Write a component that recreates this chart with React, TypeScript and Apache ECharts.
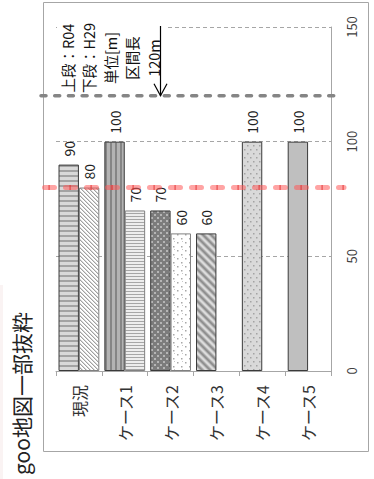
import React, { useEffect, useRef } from "react";
import * as echarts from "echarts";

// Section lengths [m] per case: upper bar = R04, lower bar = H29
const categories = ["現況", "ケース1", "ケース2", "ケース3", "ケース4", "ケース5"];
const r04Values: (number | null)[] = [90, 100, 70, 60, 100, 100];
const h29Values: (number | null)[] = [80, 70, 60, null, null, null];
const valueTicks = [0, 50, 100, 150];
const sectionLength = 120;
const thresholdValue = 80;
const noteLines = ["上段：R04", "下段：H29", "単位[m]", "区間長", "120m"];
const titleText = "goo地図一部抜粋";

const FONT = '"Noto Sans CJK JP", "Noto Sans", sans-serif';

type Painter = (ctx: CanvasRenderingContext2D, w: number, h: number) => void;

function makeTile(w: number, h: number, paint: Painter) {
  const c = document.createElement("canvas");
  c.width = w;
  c.height = h;
  const ctx = c.getContext("2d") as CanvasRenderingContext2D;
  paint(ctx, w, h);
  return { image: c.toDataURL(), repeat: "repeat", imageWidth: w, imageHeight: h };
}

function buildFills() {
  // horizontal stripes on light grey
  const hStripe = makeTile(5, 5, (ctx) => {
    ctx.fillStyle = "#d9d9d9";
    ctx.fillRect(0, 0, 5, 5);
    ctx.fillStyle = "#a3a3a3";
    ctx.fillRect(0, 0, 5, 2);
  });
  // thin diagonal hatching on white
  const diagLight = makeTile(4, 4, (ctx) => {
    ctx.fillStyle = "#ffffff";
    ctx.fillRect(0, 0, 4, 4);
    for (let i = 0; i < 4; i++) {
      ctx.fillStyle = "#a0a0a0";
      ctx.fillRect(i, i, 1, 1);
      ctx.fillStyle = "#d8d8d8";
      ctx.fillRect((i + 1) % 4, i, 1, 1);
    }
  });
  // vertical stripes, mid grey
  const vStripe = makeTile(5, 5, (ctx) => {
    ctx.fillStyle = "#b3b3b3";
    ctx.fillRect(0, 0, 5, 5);
    ctx.fillStyle = "#858585";
    ctx.fillRect(0, 0, 2, 5);
  });
  // fine horizontal stripes on near-white
  const hFine = makeTile(3, 3, (ctx) => {
    ctx.fillStyle = "#ededed";
    ctx.fillRect(0, 0, 3, 3);
    ctx.fillStyle = "#a6a6a6";
    ctx.fillRect(0, 0, 3, 1);
  });
  // dark grey with light dots
  const darkDots = makeTile(6, 6, (ctx) => {
    ctx.fillStyle = "#7c7c7c";
    ctx.fillRect(0, 0, 6, 6);
    ctx.fillStyle = "#b5b5b5";
    ctx.fillRect(1, 1, 2, 2);
    ctx.fillRect(4, 4, 2, 2);
  });
  // white with sparse dots
  const whiteDots = makeTile(8, 8, (ctx) => {
    ctx.fillStyle = "#ffffff";
    ctx.fillRect(0, 0, 8, 8);
    ctx.fillStyle = "#a8a8a8";
    ctx.fillRect(1, 2, 1.5, 1.5);
    ctx.fillRect(5, 6, 1.5, 1.5);
    ctx.fillStyle = "#c8c8c8";
    ctx.fillRect(6, 1, 1, 1);
  });
  // wide soft diagonal bands
  const diagWide = makeTile(8, 8, (ctx) => {
    const shades = ["#8c8c8c", "#999999", "#b0b0b0", "#cfcfcf", "#dedede", "#d6d6d6", "#bdbdbd", "#9e9e9e"];
    for (let y = 0; y < 8; y++) {
      for (let x = 0; x < 8; x++) {
        ctx.fillStyle = shades[(((x - y) % 8) + 8) % 8];
        ctx.fillRect(x, y, 1, 1);
      }
    }
  });
  // light grey with grey dots
  const lightDots = makeTile(6, 8, (ctx) => {
    ctx.fillStyle = "#d9d9d9";
    ctx.fillRect(0, 0, 6, 8);
    ctx.fillStyle = "#a3a3a3";
    ctx.fillRect(1, 1, 1.5, 1.5);
    ctx.fillRect(4, 5, 1.5, 1.5);
  });
  return {
    r04: [hStripe, vStripe, darkDots, diagWide, lightDots, "#bfbfbf"],
    h29: [diagLight, hFine, whiteDots, "#ffffff", "#ffffff", "#ffffff"],
  };
}

export default function App() {
  const ref = useRef<HTMLDivElement>(null);

  useEffect(() => {
    if (!ref.current) return;
    const chart = echarts.init(ref.current, null, { renderer: "svg" });
    const fills = buildFills();

    const barLabel = {
      show: true,
      position: "top",
      rotate: 90,
      align: "left",
      verticalAlign: "middle",
      distance: 8,
      fontSize: 14,
      color: "#222",
      fontFamily: FONT,
    };

    chart.setOption({
      animation: false,
      backgroundColor: "#ffffff",
      textStyle: { fontFamily: FONT },
      grid: { left: 56, right: 43, top: 27, bottom: 108 },
      xAxis: {
        type: "category",
        data: categories,
        axisLine: { lineStyle: { color: "#a6a6a6", width: 1 } },
        axisTick: { show: true, length: 5, lineStyle: { color: "#a6a6a6" } },
        axisLabel: { rotate: 90, fontSize: 16, color: "#333", margin: 14, fontFamily: FONT },
      },
      yAxis: {
        type: "value",
        position: "right",
        min: valueTicks[0],
        max: valueTicks[valueTicks.length - 1],
        interval: valueTicks[1] - valueTicks[0],
        axisLine: { show: true, lineStyle: { color: "#a6a6a6", width: 1 } },
        axisTick: { show: false },
        splitLine: { lineStyle: { color: "#a6a6a6", type: [4, 3], width: 1 } },
        axisLabel: { rotate: 90, fontSize: 13, color: "#404040", margin: 14, fontFamily: FONT },
      },
      series: [
        {
          name: "R04",
          type: "bar",
          barGap: "0%",
          barCategoryGap: "11%",
          data: r04Values.map((v, i) => ({
            value: v == null ? "-" : v,
            itemStyle: { color: fills.r04[i], borderColor: "#3a3a3a", borderWidth: 1 },
          })),
          label: barLabel,
        },
        {
          name: "H29",
          type: "bar",
          barGap: "0%",
          barCategoryGap: "11%",
          data: h29Values.map((v, i) => ({
            value: v == null ? "-" : v,
            itemStyle: { color: fills.h29[i], borderColor: "#808080", borderWidth: 1 },
          })),
          label: barLabel,
        },
      ],
    });

    const yOf = (v: number) => chart.convertToPixel({ yAxisIndex: 0 }, v) as number;
    const yThreshold = yOf(thresholdValue);
    const ySection = yOf(sectionLength);
    const yTop = yOf(valueTicks[valueTicks.length - 1]);

    const graphics: any[] = [
      {
        type: "rect",
        z: 1,
        shape: { x: 43.5, y: 2.5, width: 325, height: 449 },
        style: { fill: "none", stroke: "#a6a6a6", lineWidth: 1 },
      },
      {
        type: "rect",
        z: 5,
        shape: { x: 57, y: yTop - 2, width: 110, height: 4 },
        style: { fill: "#ffffff" },
      },
      {
        type: "rect",
        z: 1,
        shape: { x: 0, y: 285, width: 3, height: 194 },
        style: { fill: "rgba(225,190,190,0.18)" },
      },
      // threshold line
      {
        type: "line",
        z: 20,
        shape: { x1: 44.5, y1: yThreshold, x2: 344, y2: yThreshold },
        style: { stroke: "rgba(255,90,90,0.55)", lineWidth: 5, lineDash: [10, 11], lineCap: "round" },
      },
      {
        type: "line",
        z: 21,
        shape: { x1: 44.5, y1: yThreshold, x2: 344, y2: yThreshold },
        style: { stroke: "rgba(220,40,40,0.7)", lineWidth: 5, lineDash: [1.2, 19.8], lineDashOffset: -4.4 },
      },
      // section length line
      {
        type: "line",
        z: 20,
        shape: { x1: 41, y1: ySection, x2: 341, y2: ySection },
        style: { stroke: "#858585", lineWidth: 3.5, lineDash: [5, 8.7], lineCap: "round" },
      },
      // arrow
      {
        type: "line",
        z: 22,
        shape: { x1: 160.5, y1: yTop - 1, x2: 160.5, y2: ySection },
        style: { stroke: "#000", lineWidth: 1.2 },
      },
      {
        type: "polyline",
        z: 22,
        shape: { points: [[154, ySection - 12], [160.5, ySection], [167, ySection - 12]] },
        style: { stroke: "#000", lineWidth: 1.2, fill: "none" },
      },
      {
        type: "text",
        z: 30,
        x: 21,
        y: 312,
        rotation: Math.PI / 2,
        style: {
          text: titleText,
          fontSize: 21,
          fontFamily: FONT,
          fill: "#222",
          align: "right",
          verticalAlign: "middle",
        },
      },
      // legend / unit note, one rotated multi-line block
      {
        type: "text",
        z: 30,
        x: 110,
        y: 58,
        rotation: Math.PI / 2,
        style: {
          text: noteLines.join("\n"),
          fontSize: 14.5,
          lineHeight: 21.5,
          fontFamily: FONT,
          fill: "#111",
          align: "center",
          verticalAlign: "middle",
        },
      },
    ];

    chart.setOption({ graphic: graphics });

    return () => chart.dispose();
  }, []);

  return (
    <div
      ref={ref}
      style={{ position: "absolute", left: 0, top: 0, width: 374, height: 479, background: "#fff" }}
    />
  );
}
